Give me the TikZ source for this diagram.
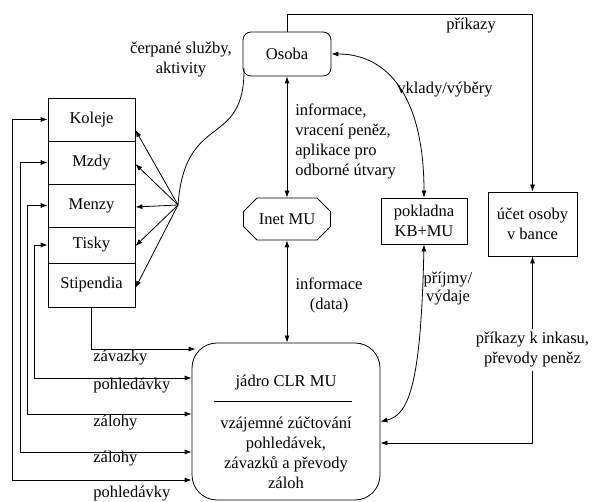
\documentclass[tikz,border=0pt]{standalone}
\usepackage{fontspec}
\setmainfont{Liberation Serif}
\usetikzlibrary{arrows.meta,shapes.misc}

\begin{document}
\begin{tikzpicture}[x=1pt,y=-1pt,
    font=\fontsize{16.5}{20}\selectfont,
    line width=0.8pt,
    arr/.style={-{Latex[length=7pt,width=5pt]}},
    arrs/.style={{Latex[length=7pt,width=5pt]}-{Latex[length=7pt,width=5pt]}},
    lbox/.style={draw, minimum width=87pt, inner sep=0pt},
    lbl/.style={anchor=west, inner sep=0pt}]
            \useasboundingbox (0,0) rectangle (594,502);
            \node[draw, rounded corners=8pt, minimum width=88pt, minimum height=44pt] (osoba) at (287,54) {Osoba};
            \node[draw, chamfered rectangle, chamfered rectangle xsep=8pt, chamfered rectangle ysep=8pt, minimum width=87pt, minimum height=42pt, inner sep=0pt] (inet) at (287,219) {Inet MU};
            \node[draw, minimum width=86pt, minimum height=46pt, align=center] (pokl) at (424,221) {pokladna\\KB+MU};
            \node[draw, minimum width=89pt, minimum height=64pt, align=center] (ucet) at (532.5,224) {účet osoby\\v bance};
            \node[lbox, minimum height=43pt] (koleje) at (91.5,119.5) {Koleje};
            \node[lbox, minimum height=43pt] (mzdy) at (91.5,162.5) {Mzdy};
            \node[lbox, minimum height=43pt] (menzy) at (91.5,205.5) {Menzy};
            \node[lbox, minimum height=36pt] (tisky) at (91.5,245) {Tisky};
            \node[lbox, minimum height=44pt] (stip) at (91.5,285) {Stipendia};
            \node[draw, rounded corners=25pt, minimum width=188pt, minimum height=157pt] (jadro) at (286,421.5) {};
            \node (jadrotit) at (286,383) {jádro CLR MU};
            \draw (214,401) -- (352,401);
            \node[align=center] (jadrotxt) at (286,453) {vzájemné zúčtování\\pohledávek,\\závazků a převody\\záloh};
            \coordinate (fan) at (178,205);
            \coordinate (roh) at (532.5,14);
            \coordinate (vlna) at (244,68);
            \draw[arr] (osoba.north) |- (roh) -- (ucet.north);
            \draw[arrs] (osoba) -- (inet);
            \draw[arrs] (inet.south) -- (inet.south |- jadro.north);
            \draw[arrs] (osoba.east) .. controls (390,54) and (424,100) .. (pokl.north);
            \draw[arrs] (pokl.south) .. controls (421,380) and (410,415) .. (jadro.east);
            \draw[arrs] (ucet.south) |- ([yshift=-21.5pt]jadro.east) node[pos=0.25, fill=white, align=center] (lprev) {příkazy k inkasu,\\převody peněz};
            \draw (fan) .. controls (185,110) and (245,150) .. (vlna);
            \draw[arr] (fan) -- ([yshift=-10.5pt]koleje.east);
            \draw[arr] (fan) -- ([yshift=-1.5pt]mzdy.east);
            \draw[arr] (fan) -- ([yshift=-1.5pt]menzy.east);
            \draw[arr] (fan) -- ([yshift=-1pt]tisky.east);
            \draw[arr] (fan) -- ([yshift=-3pt]stip.east);
            \draw[arrs] (koleje.west) -| (12,480) -- ([yshift=-58.5pt]jadro.west);
            \draw[arrs] (mzdy.west) -| (20,452) -- ([yshift=-30.5pt]jadro.west);
            \draw[arrs] (menzy.west) -| (27,414) -- ([yshift=7.5pt]jadro.west);
            \draw[arrs] (tisky.west) -| (34,378) -- ([yshift=43.5pt]jadro.west);
            \draw[arr] (stip.south) |- ([shift={(4pt,72.5pt)}]jadro.west);
            \node[lbl] (lzav) at (93,358) {závazky};
            \node[lbl] (lpoh1) at (93,386) {pohledávky};
            \node[lbl] (lzal1) at (93,423) {zálohy};
            \node[lbl] (lzal2) at (93,459) {zálohy};
            \node[lbl] (lpoh2) at (93,494) {pohledávky};
            \node[align=center] (lcerp) at (181,60) {čerpané služby,\\aktivity};
            \node (lprik) at (471,26) {příkazy};
            \node (lvkl) at (445,90) {vklady/výběry};
            \node[lbl, align=left] (linf) at (295,141) {informace,\\vracení peněz,\\aplikace pro\\odborné útvary};
            \node[align=center] (ldata) at (329,295) {informace\\(data)};
            \node[align=center] (lprij) at (448,289) {příjmy/\\[-2pt]výdaje};
        \end{tikzpicture}
\end{document}
